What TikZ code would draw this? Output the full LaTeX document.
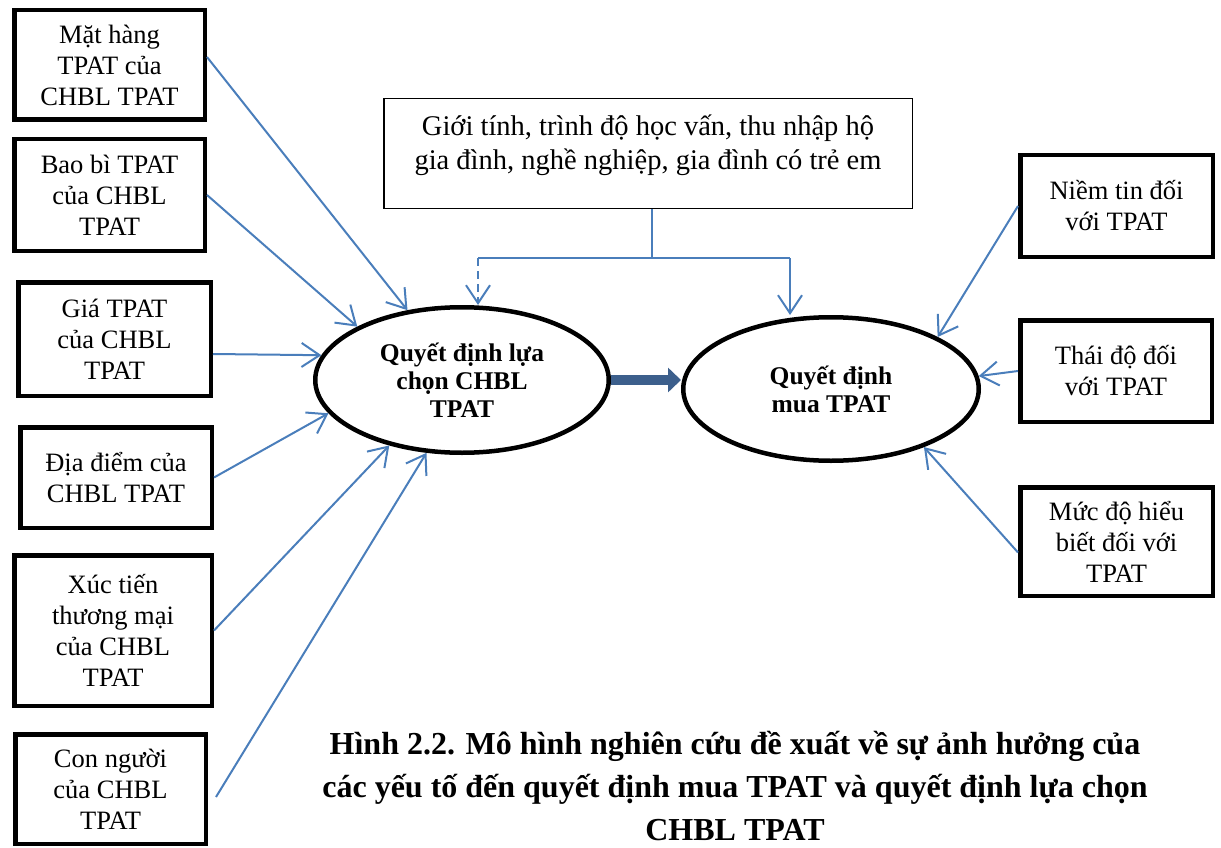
\documentclass[tikz,border=0pt]{standalone}
\usepackage{fontspec}
\setmainfont{Liberation Serif}
\usetikzlibrary{arrows.meta,shapes.geometric}
\definecolor{linkblue}{RGB}{74,126,187}
\definecolor{mainarrow}{RGB}{60,95,140}
\begin{document}
\begin{tikzpicture}[x=1pt,y=-1pt,
  factor/.style={draw, line width=4.5pt, inner sep=0pt, align=center,
    font=\fontsize{26.5}{31}\selectfont},
  groupbox/.style={draw, line width=1.5pt, inner sep=0pt},
  decision/.style={ellipse, draw, line width=4.5pt, inner sep=0pt, align=center,
    font=\fontsize{25.5}{28}\selectfont\bfseries},
  influence/.style={linkblue, line width=2pt, -{Straight Barb[length=18pt,width=24pt]}},
]
\path[use as bounding box] (0,0) rectangle (1221,848);

% factors of the store choice (left column)
\node[factor, minimum width=190.5pt, minimum height=109.5pt] (b1) at (109.5,65) {Mặt hàng\\TPAT của\\CHBL TPAT};
\node[factor, minimum width=190.5pt, minimum height=111.5pt] (b2) at (109.5,195) {Bao bì TPAT\\của CHBL\\TPAT};
\node[factor, minimum width=192.5pt, minimum height=113.5pt] (b3) at (114.5,339) {Giá TPAT\\của CHBL\\TPAT};
\node[factor, minimum width=191.5pt, minimum height=100.5pt] (b4) at (116,477.5) {Địa điểm của\\CHBL TPAT};
\node[factor, minimum width=197.5pt, minimum height=150.5pt] (b5) at (113,630.5) {Xúc tiến\\thương mại\\của CHBL\\TPAT};
\node[factor, minimum width=190.5pt, minimum height=109.5pt] (b6) at (110.5,789) {Con người\\của CHBL\\TPAT};

% factors of the purchase decision (right column)
\node[factor, minimum width=192.5pt, minimum height=101.5pt] (r1) at (1116.5,206) {Niềm tin đối\\với TPAT};
\node[factor, minimum width=191.5pt, minimum height=101.5pt] (r2) at (1116,371) {Thái độ đối\\với TPAT};
\node[factor, minimum width=192.5pt, minimum height=108.5pt] (r3) at (1116.5,541.5) {Mức độ hiểu\\biết đối với\\TPAT};

% demographic controls
\node[groupbox, minimum width=528.5pt, minimum height=109.5pt] (top) at (648,153.5) {};
\node[align=center, inner sep=0pt, font=\fontsize{28.5}{34}\selectfont] (toptext) at (648,145)
  {Giới tính, trình độ học vấn, thu nhập hộ\\gia đình, nghề nghiệp, gia đình có trẻ em};

% the two decisions
\node[decision, minimum width=293.5pt, minimum height=145.5pt] (e1) at (462,380) {Quyết định lựa\\chọn CHBL\\TPAT};
\node[decision, minimum width=295.5pt, minimum height=143.5pt] (e2) at (831,389) {Quyết định\\mua TPAT};

\draw[mainarrow, line width=10pt, -{Triangle[length=13pt,width=24pt]}] (e1.east) -- (e1.east -| e2.west);

% left influences
\draw[influence] ([yshift=8pt]b1.east) -- (e1.128);
\draw[influence] (b2.east) -- (e1.153.6);
\draw[influence] ([yshift=-15pt]b3.east) -- (e1.170);
\draw[influence] (b4.east) -- (e1.194.4);
\draw[influence] (b5.east) -- (e1.222);
\draw[influence] ([yshift=-8pt,xshift=8pt]b6.east) -- (e1.244);

% right influences
\draw[influence] (r1.west) -- (e2.26.8);
\draw[influence] (r2.west) -- (e2.5.7);
\draw[influence] ([yshift=-11pt]r3.west) -- (e2.328);

% moderating link from the demographic box
\coordinate (jm) at (652,258);
\coordinate (jl) at (478,258);
\coordinate (jr) at (790,258);
\draw[linkblue, line width=2pt] (top.south -| jm) -- (jm);
\draw[linkblue, line width=2pt] (jl) -- (jr);
\draw[influence, dash pattern=on 8pt off 5pt] (jl) -- (jl |- e1.north);
\draw[influence] (jr) -- (jr |- e2.north);

% caption (anchored on the baseline of its last line)
\node[anchor=base, align=center, inner sep=0pt, font=\fontsize{32}{43}\selectfont\bfseries] (caption) at (735,840)
  {Hình 2.2. Mô hình nghiên cứu đề xuất về sự ảnh hưởng của\\các yếu tố đến quyết định mua TPAT và quyết định lựa chọn\\CHBL TPAT};
\end{tikzpicture}
\end{document}
